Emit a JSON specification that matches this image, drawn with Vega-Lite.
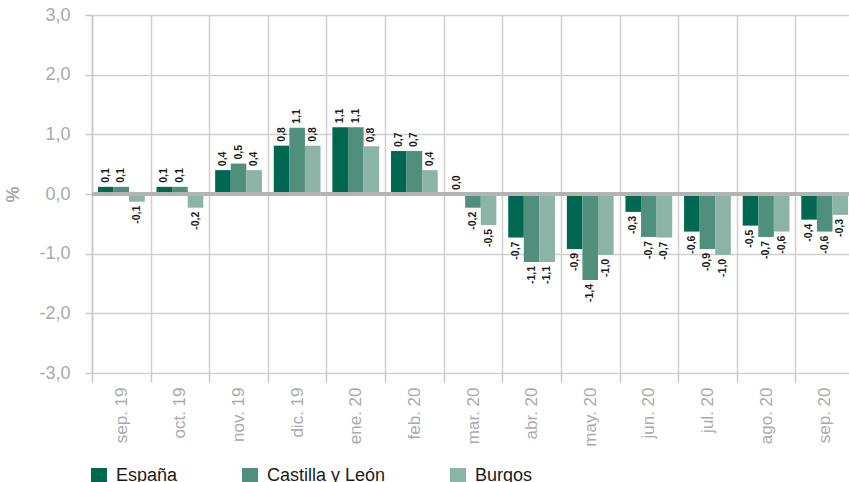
{
  "$schema": "https://vega.github.io/schema/vega-lite/v6.json",
  "autosize": {"type": "none"},
  "padding": {"left": 92, "top": 15, "right": 0, "bottom": 109},
  "width": 762,
  "height": 358,
  "background": "white",
  "config": {
    "font": "Liberation Sans",
    "view": {"stroke": null}
  },
  "data": {
    "values": [
      {"mes": "sep. 19", "serie": "España", "valor": 0.12, "etiqueta": "0,1"},
      {"mes": "sep. 19", "serie": "Castilla y León", "valor": 0.12, "etiqueta": "0,1"},
      {"mes": "sep. 19", "serie": "Burgos", "valor": -0.13, "etiqueta": "-0,1"},
      {"mes": "oct. 19", "serie": "España", "valor": 0.12, "etiqueta": "0,1"},
      {"mes": "oct. 19", "serie": "Castilla y León", "valor": 0.12, "etiqueta": "0,1"},
      {"mes": "oct. 19", "serie": "Burgos", "valor": -0.23, "etiqueta": "-0,2"},
      {"mes": "nov. 19", "serie": "España", "valor": 0.40, "etiqueta": "0,4"},
      {"mes": "nov. 19", "serie": "Castilla y León", "valor": 0.51, "etiqueta": "0,5"},
      {"mes": "nov. 19", "serie": "Burgos", "valor": 0.40, "etiqueta": "0,4"},
      {"mes": "dic. 19", "serie": "España", "valor": 0.81, "etiqueta": "0,8"},
      {"mes": "dic. 19", "serie": "Castilla y León", "valor": 1.11, "etiqueta": "1,1"},
      {"mes": "dic. 19", "serie": "Burgos", "valor": 0.81, "etiqueta": "0,8"},
      {"mes": "ene. 20", "serie": "España", "valor": 1.12, "etiqueta": "1,1"},
      {"mes": "ene. 20", "serie": "Castilla y León", "valor": 1.12, "etiqueta": "1,1"},
      {"mes": "ene. 20", "serie": "Burgos", "valor": 0.80, "etiqueta": "0,8"},
      {"mes": "feb. 20", "serie": "España", "valor": 0.72, "etiqueta": "0,7"},
      {"mes": "feb. 20", "serie": "Castilla y León", "valor": 0.72, "etiqueta": "0,7"},
      {"mes": "feb. 20", "serie": "Burgos", "valor": 0.40, "etiqueta": "0,4"},
      {"mes": "mar. 20", "serie": "España", "valor": 0.0, "etiqueta": "0,0"},
      {"mes": "mar. 20", "serie": "Castilla y León", "valor": -0.23, "etiqueta": "-0,2"},
      {"mes": "mar. 20", "serie": "Burgos", "valor": -0.52, "etiqueta": "-0,5"},
      {"mes": "abr. 20", "serie": "España", "valor": -0.73, "etiqueta": "-0,7"},
      {"mes": "abr. 20", "serie": "Castilla y León", "valor": -1.14, "etiqueta": "-1,1"},
      {"mes": "abr. 20", "serie": "Burgos", "valor": -1.14, "etiqueta": "-1,1"},
      {"mes": "may. 20", "serie": "España", "valor": -0.92, "etiqueta": "-0,9"},
      {"mes": "may. 20", "serie": "Castilla y León", "valor": -1.44, "etiqueta": "-1,4"},
      {"mes": "may. 20", "serie": "Burgos", "valor": -1.02, "etiqueta": "-1,0"},
      {"mes": "jun. 20", "serie": "España", "valor": -0.30, "etiqueta": "-0,3"},
      {"mes": "jun. 20", "serie": "Castilla y León", "valor": -0.72, "etiqueta": "-0,7"},
      {"mes": "jun. 20", "serie": "Burgos", "valor": -0.73, "etiqueta": "-0,7"},
      {"mes": "jul. 20", "serie": "España", "valor": -0.63, "etiqueta": "-0,6"},
      {"mes": "jul. 20", "serie": "Castilla y León", "valor": -0.92, "etiqueta": "-0,9"},
      {"mes": "jul. 20", "serie": "Burgos", "valor": -1.02, "etiqueta": "-1,0"},
      {"mes": "ago. 20", "serie": "España", "valor": -0.53, "etiqueta": "-0,5"},
      {"mes": "ago. 20", "serie": "Castilla y León", "valor": -0.72, "etiqueta": "-0,7"},
      {"mes": "ago. 20", "serie": "Burgos", "valor": -0.63, "etiqueta": "-0,6"},
      {"mes": "sep. 20", "serie": "España", "valor": -0.43, "etiqueta": "-0,4"},
      {"mes": "sep. 20", "serie": "Castilla y León", "valor": -0.63, "etiqueta": "-0,6"},
      {"mes": "sep. 20", "serie": "Burgos", "valor": -0.35, "etiqueta": "-0,3"}
    ]
  },
  "encoding": {
    "x": {
      "field": "mes",
      "type": "nominal",
      "sort": null,
      "scale": {"paddingInner": 0, "paddingOuter": 0},
      "axis": {
        "title": null,
        "labelAngle": 270,
        "labelColor": "#a9a9a9",
        "labelFontSize": 17,
        "labelPadding": 5,
        "tickBand": "extent",
        "tickColor": "#c8c8c8",
        "tickWidth": 1.5,
        "tickSize": 9,
        "domain": false,
        "grid": true,
        "gridColor": "#d0d0d0",
        "gridWidth": 1.5
      }
    },
    "xOffset": {
      "field": "serie",
      "type": "nominal",
      "scale": {"domain": ["España", "Castilla y León", "Burgos"], "paddingInner": 0, "paddingOuter": 0.38}
    }
  },
  "layer": [
    {
      "mark": {"type": "bar"},
      "encoding": {
        "y": {
          "field": "valor",
          "type": "quantitative",
          "scale": {"domain": [-3, 3], "nice": false},
          "axis": {
            "title": "%",
            "titleColor": "#a9a9a9",
            "titleFontSize": 18,
            "titleFontWeight": "bold",
            "titlePadding": 16,
            "values": [-3, -2, -1, 0, 1, 2, 3],
            "labelExpr": "replace(replace(format(datum.value, '.1f'), '.', ','), '\u2212', '-')",
            "labelColor": "#a9a9a9",
            "labelFontSize": 18,
            "labelPadding": 15,
            "tickSize": 7,
            "tickColor": "#c8c8c8",
            "tickWidth": 1.5,
            "domainColor": "#c8c8c8",
            "domainWidth": 1.5,
            "grid": true,
            "gridColor": "#d0d0d0",
            "gridWidth": 1.5
          }
        },
        "color": {
          "field": "serie",
          "type": "nominal",
          "scale": {
            "domain": ["España", "Castilla y León", "Burgos"],
            "range": ["#006850", "#4f8f7b", "#8cb4a6"]
          },
          "legend": {
            "title": null,
            "orient": "none",
            "legendX": -2,
            "legendY": 452,
            "direction": "horizontal",
            "columns": 3,
            "columnPadding": 63,
            "symbolType": "square",
            "symbolSize": 256,
            "symbolStrokeWidth": 0,
            "symbolOpacity": 1,
            "labelFontSize": 18,
            "labelColor": "#1a1a1a",
            "labelOffset": 8,
            "padding": 0
          }
        }
      }
    },
    {
      "mark": {"type": "rule", "color": "#b3b3b3", "strokeWidth": 3},
      "encoding": {"y": {"datum": 0, "type": "quantitative"}, "xOffset": null, "x": null}
    },
    {
      "transform": [{"filter": "datum.valor >= 0"}],
      "mark": {"type": "text", "angle": 270, "align": "left", "baseline": "middle", "dx": 4, "fontSize": 10.5, "fontWeight": "bold", "color": "#1a1a1a"},
      "encoding": {
        "y": {"field": "valor", "type": "quantitative"},
        "text": {"field": "etiqueta"}
      }
    },
    {
      "transform": [{"filter": "datum.valor < 0"}],
      "mark": {"type": "text", "angle": 270, "align": "right", "baseline": "middle", "dx": -4, "fontSize": 10.5, "fontWeight": "bold", "color": "#1a1a1a"},
      "encoding": {
        "y": {"field": "valor", "type": "quantitative"},
        "text": {"field": "etiqueta"}
      }
    }
  ]
}
